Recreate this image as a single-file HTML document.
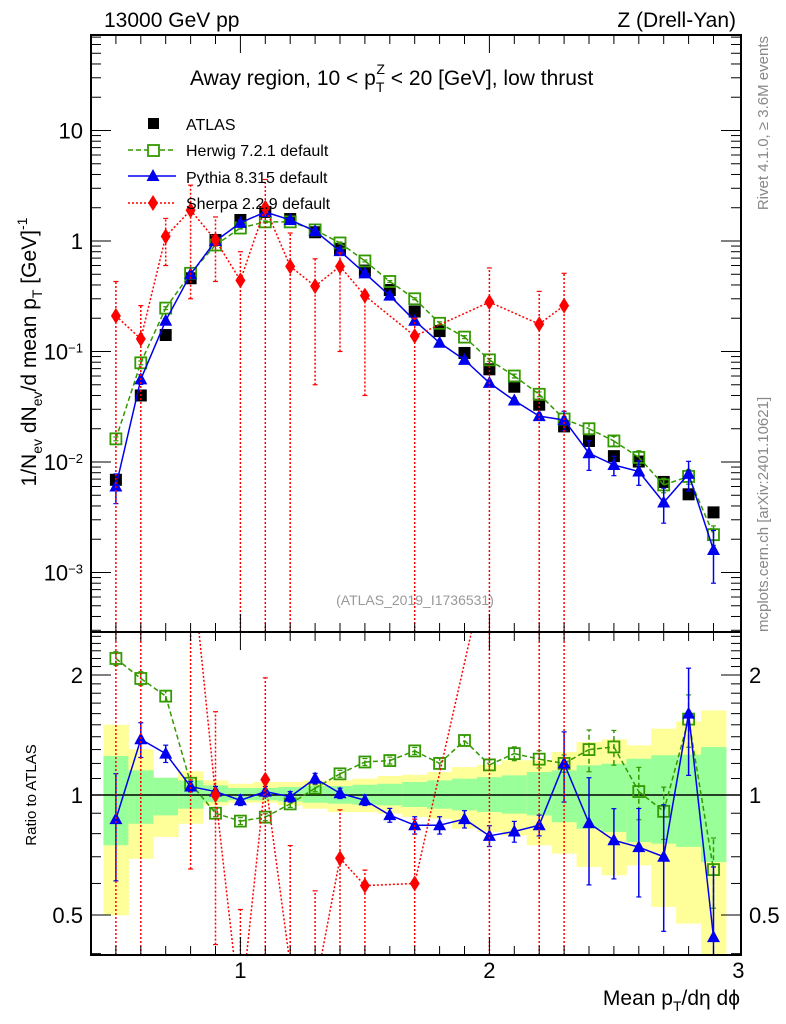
<!DOCTYPE html>
<html><head><meta charset="utf-8"><style>
html,body{margin:0;padding:0;background:#fff;overflow:hidden;width:786px;height:1024px;}
svg{display:block;font-family:"Liberation Sans",sans-serif;}
</style></head><body>
<svg id="c" width="786" height="1024" xmlns="http://www.w3.org/2000/svg"></svg>
<script>
const xs=[0.5,0.6,0.7,0.8,0.9,1.0,1.1,1.2,1.3,1.4,1.5,1.6,1.7,1.8,1.9,2.0,2.1,2.2,2.3,2.4,2.5,2.6,2.7,2.8,2.9];
const atlas=[0.0069,0.040,0.141,0.46,1.02,1.55,1.83,1.58,1.2,0.85,0.54,0.36,0.23,0.153,0.097,0.069,0.048,0.033,0.021,0.0155,0.0113,0.0101,0.0066,0.0051,0.0035];
const herwig=[0.0162,0.079,0.247,0.51,0.92,1.31,1.49,1.49,1.26,0.96,0.66,0.43,0.30,0.18,0.135,0.084,0.060,0.041,0.0245,0.020,0.0155,0.011,0.0062,0.0074,0.0022];
const pythia=[0.006,0.056,0.19,0.5,1.0,1.46,1.83,1.55,1.23,0.81,0.51,0.32,0.19,0.12,0.084,0.052,0.036,0.026,0.024,0.012,0.0094,0.0082,0.0043,0.0078,0.0016];
const pythiaRelErr=[0.3,0.1,0.05,0.03,0.03,0.03,0.03,0.03,0.03,0.03,0.03,0.04,0.05,0.05,0.05,0.06,0.06,0.06,0.2,0.3,0.2,0.25,0.35,0.3,0.5];
const herwigRelErr=[0.04,0.04,0.03,0.02,0.02,0.02,0.02,0.02,0.02,0.02,0.02,0.02,0.02,0.03,0.03,0.03,0.04,0.05,0.05,0.12,0.1,0.15,0.15,0.15,0.2];
const sherpaX=[0.5,0.6,0.7,0.8,0.9,1.0,1.1,1.2,1.3,1.4,1.5,1.7,2.0,2.2,2.3];
const sherpa=[0.21,0.13,1.1,1.9,1.02,0.44,2.0,0.59,0.39,0.59,0.32,0.138,0.28,0.177,0.26];
const sherpaLo=[1e-5,1e-5,0.6,0.3,0.43,1e-5,1e-5,1e-5,0.05,0.1,0.04,1e-5,1e-5,1e-5,1e-5];
const sherpaHi=[0.43,0.26,1.6,3.2,1.65,0.8,3.6,1.18,0.69,0.78,0.35,0.2,0.57,0.35,0.51];
const herwigRatio=[2.2,1.96,1.77,1.07,0.90,0.86,0.88,0.95,1.04,1.13,1.21,1.22,1.29,1.20,1.37,1.19,1.27,1.23,1.2,1.3,1.32,1.02,0.91,1.55,0.65];
const pythiaRatio=[0.87,1.38,1.27,1.05,1.02,0.97,1.02,0.99,1.1,1.01,0.97,0.89,0.84,0.84,0.87,0.79,0.81,0.84,1.2,0.85,0.77,0.74,0.70,1.6,0.44];
const yellowHi=[1.50,1.302,1.105,1.147,1.088,1.067,1.078,1.078,1.088,1.088,1.099,1.116,1.124,1.142,1.175,1.191,1.222,1.222,1.282,1.358,1.379,1.332,1.467,1.530,1.630];
const yellowLo=[0.499,0.692,0.785,0.847,0.942,0.956,0.956,0.942,0.924,0.906,0.906,0.898,0.881,0.872,0.823,0.808,0.792,0.748,0.713,0.660,0.629,0.666,0.524,0.476,0.38];
const greenHi=[1.253,1.153,1.105,1.088,1.057,1.041,1.041,1.047,1.053,1.053,1.061,1.067,1.078,1.088,1.099,1.109,1.120,1.142,1.153,1.187,1.198,1.233,1.258,1.262,1.319];
const greenLo=[0.748,0.847,0.889,0.924,0.960,0.970,0.970,0.964,0.956,0.951,0.946,0.942,0.933,0.924,0.915,0.906,0.898,0.889,0.855,0.823,0.808,0.762,0.755,0.741,0.679];
const mainTicks=[10,1,0.1,0.01,0.001];
const mainTickLabels=["10","1","10<tspan dy='-7' font-size='13'>−1</tspan>","10<tspan dy='-7' font-size='13'>−2</tspan>","10<tspan dy='-7' font-size='13'>−3</tspan>"];
const ratioTicks=[2,1,0.5];
const ratioTickLabels=["2","1","0.5"];
const xTicks=[1,2,3];

const L=91,R=741,T=35,MB=632,RB=955;
const X=v=>L+(v-0.4)*249;
const Y=v=>241-110.5*Math.log10(v);
const YR=v=>795-398.7*Math.log10(v);
const svg=document.getElementById('c');
const NS='http://www.w3.org/2000/svg';
function add(tag,attrs,parent){const e=document.createElementNS(NS,tag);for(const k in attrs)e.setAttribute(k,attrs[k]);(parent||svg).appendChild(e);return e;}
svg.innerHTML=`<defs><clipPath id="cm"><rect x="${L}" y="${T}" width="${R-L}" height="${MB-T}"/></clipPath><clipPath id="cr"><rect x="${L}" y="${MB}" width="${R-L}" height="${RB-MB}"/></clipPath></defs>`;

const gBand=add('g',{'clip-path':'url(#cr)'});


const cl=(v,a,b)=>Math.max(a,Math.min(b,v));
xs.forEach((x,i)=>{
 const yh=cl(YR(yellowHi[i]),MB,RB), yl=cl(YR(yellowLo[i]),MB,RB);
 const r1=add('rect',{x:X(x-0.05),y:yh,width:X(x+0.05)-X(x-0.05)+0.5,height:yl-yh,fill:'#ffff99'},gBand);
 
 
 const gh=cl(YR(greenHi[i]),MB,RB), gl=cl(YR(greenLo[i]),MB,RB);
 const r2=add('rect',{x:X(x-0.05),y:gh,width:X(x+0.05)-X(x-0.05)+0.5,height:gl-gh,fill:'#99ff99'},gBand);
 
 
});
add('line',{x1:L,x2:R,y1:YR(1),y2:YR(1),stroke:'#000','stroke-width':1.5});

function marker(g,type,x,y,color){
 let e;
 if(type==='sq') e=add('rect',{x:x-6,y:y-6,width:12,height:12,fill:'#000'},g);
 else if(type==='osq') e=add('rect',{x:x-5.5,y:y-5.5,width:11,height:11,fill:'#fff','fill-opacity':0,stroke:color,'stroke-width':1.8},g);
 else if(type==='tri') e=add('path',{d:`M${x},${y-7}L${x+6.5},${y+5}L${x-6.5},${y+5}Z`,fill:color},g);
 else e=add('path',{d:`M${x},${y-8}L${x+5},${y}L${x},${y+8}L${x-5},${y}Z`,fill:color},g);
 
 
}
// clip a segment to ymin..ymax; returns null if outside
function clipSeg(x1,y1,x2,y2,ymin,ymax){
 let t0=0,t1=1;const dy=y2-y1;
 const p=[-dy,dy],q=[y1-ymin,ymax-y1];
 for(let k=0;k<2;k++){
  if(p[k]===0){if(q[k]<0)return null;}
  else{const r=q[k]/p[k];if(p[k]<0){if(r>t1)return null;if(r>t0)t0=r;}else{if(r<t0)return null;if(r<t1)t1=r;}}
 }
 return [x1+(x2-x1)*t0,y1+dy*t0,x1+(x2-x1)*t1,y1+dy*t1];
}
function series(clip,yf,xv,vals,lo,hi,color,dash,type,name,ymin,ymax){
 const g=add('g',{'clip-path':clip});
 
 
 xv.forEach((x,i)=>{ if(lo){
  const a0=yf(Math.max(lo[i],1e-6)),b0=yf(hi[i]);
  const a=cl(a0,ymin,ymax),b=cl(b0,ymin,ymax);
  if(a===b) return;
  add('line',{x1:X(x),x2:X(x),y1:a,y2:b,stroke:color,'stroke-width':1.5,'stroke-dasharray':dash},g);
  if(b0>=ymin&&b0<=ymax) add('line',{x1:X(x)-2.5,x2:X(x)+2.5,y1:b,y2:b,stroke:color,'stroke-width':1.2},g);
  if(a0>=ymin&&a0<=ymax) add('line',{x1:X(x)-2.5,x2:X(x)+2.5,y1:a,y2:a,stroke:color,'stroke-width':1.2},g);}});
 if(color!=='#000'){
  let d='';
  for(let i=1;i<xv.length;i++){
   const s=clipSeg(X(xv[i-1]),yf(vals[i-1]),X(xv[i]),yf(vals[i]),ymin,ymax);
   if(s) d+=`M${s[0]},${s[1]}L${s[2]},${s[3]}`;
  }
  if(d) add('path',{d:d,fill:'none',stroke:color,'stroke-width':1.5,'stroke-dasharray':dash},g);}
 xv.forEach((x,i)=>{const y=yf(vals[i]);if(y>=ymin&&y<=ymax)marker(g,type,X(x),y,color);});
}
const pLo=pythia.map((v,i)=>v*(1-pythiaRelErr[i])), pHi=pythia.map((v,i)=>v*(1+pythiaRelErr[i]));
const hLo=herwig.map((v,i)=>v*(1-herwigRelErr[i])), hHi=herwig.map((v,i)=>v*(1+herwigRelErr[i]));
series('url(#cm)',Y,xs,atlas,null,null,'#000','','sq','atlas-data',T,MB);
series('url(#cm)',Y,xs,herwig,hLo,hHi,'#339900','5,3','osq','herwig-series',T,MB);
series('url(#cm)',Y,xs,pythia,pLo,pHi,'#0000ee','','tri','pythia-series',T,MB);
series('url(#cm)',Y,sherpaX,sherpa,sherpaLo,sherpaHi,'#ff0000','2,2','dia','sherpa-series',T,MB);
const atlasAt=x=>atlas[xs.findIndex(v=>Math.abs(v-x)<1e-6)];
const sR=sherpaX.map((x,i)=>sherpa[i]/atlasAt(x));
const sRLo=sherpaX.map((x,i)=>sherpaLo[i]/atlasAt(x));
const sRHi=sherpaX.map((x,i)=>sherpaHi[i]/atlasAt(x));
series('url(#cr)',YR,xs,herwigRatio,herwigRatio.map((v,i)=>v*(1-herwigRelErr[i])),herwigRatio.map((v,i)=>v*(1+herwigRelErr[i])),'#339900','5,3','osq','herwig-ratio',MB,RB);
series('url(#cr)',YR,xs,pythiaRatio,pythiaRatio.map((v,i)=>v*(1-pythiaRelErr[i])),pythiaRatio.map((v,i)=>v*(1+pythiaRelErr[i])),'#0000ee','','tri','pythia-ratio',MB,RB);
series('url(#cr)',YR,sherpaX,sR,sRLo,sRHi,'#ff0000','2,2','dia','sherpa-ratio',MB,RB);

let t='';
t+=`<rect x="${L}" y="${T}" width="${R-L}" height="${MB-T}" fill="none" stroke="#000" stroke-width="2"/>`;
t+=`<rect x="${L}" y="${MB}" width="${R-L}" height="${RB-MB}" fill="none" stroke="#000" stroke-width="2"/>`;
for(let d=-4;d<=1;d++)for(let m=1;m<=9;m++){const v=m*Math.pow(10,d);const y=Y(v);if(y<T||y>MB)continue;const len=m===1?20:10;
 t+=`<line x1="${L}" x2="${L+len}" y1="${y}" y2="${y}" stroke="#000"/><line x1="${R-len}" x2="${R}" y1="${y}" y2="${y}" stroke="#000"/>`;}
for(let v=0.4;v<=2.6;v=Math.round((v+0.1)*10)/10){const y=YR(v);if(y<MB||y>RB)continue;const len=(v===0.5||v===1||v===2)?20:10;
 t+=`<line x1="${L}" x2="${L+len}" y1="${y}" y2="${y}" stroke="#000"/><line x1="${R-len}" x2="${R}" y1="${y}" y2="${y}" stroke="#000"/>`;}
for(let v=0.5;v<3.0;v=Math.round((v+0.1)*10)/10){const x=X(v);const len=(Math.abs(v-Math.round(v))<1e-6)?18:9;
 t+=`<line x1="${x}" x2="${x}" y1="${T}" y2="${T+len}" stroke="#000"/><line x1="${x}" x2="${x}" y1="${MB-len}" y2="${MB}" stroke="#000"/>`;
 t+=`<line x1="${x}" x2="${x}" y1="${MB}" y2="${MB+len}" stroke="#000"/><line x1="${x}" x2="${x}" y1="${RB-len}" y2="${RB}" stroke="#000"/>`;}
mainTicks.forEach((v,i)=>{t+=`<text x="${L-8}" y="${Y(v)+8}" font-size="22" text-anchor="end">${mainTickLabels[i]}</text>`;});
ratioTicks.forEach((v,i)=>{t+=`<text x="${L-8}" y="${YR(v)+8}" font-size="22" text-anchor="end">${ratioTickLabels[i]}</text>`;
 t+=`<text x="${R+8}" y="${YR(v)+8}" font-size="22">${ratioTickLabels[i]}</text>`;});
xTicks.forEach(v=>{t+=`<text x="${X(v)}" y="978" font-size="22" text-anchor="middle">${v}</text>`;});
t+=`
<text x="104" y="27" font-size="21">13000 GeV pp</text>
<text x="736" y="27" font-size="21" text-anchor="end">Z (Drell-Yan)</text>
<text x="190" y="85" font-size="21">Away region, 10 &lt; p<tspan dy="7" font-size="14">T</tspan><tspan dx="-8" dy="-18" font-size="14">Z</tspan><tspan dy="11"> &lt; 20 [GeV], low thrust</tspan></text>
<g font-size="16">
 <rect x="148" y="118" width="11" height="11" fill="#000"/>
 <text x="186" y="130">ATLAS</text>
 <line x1="128" x2="176" y1="150" y2="150" stroke="#339900" stroke-width="1.5" stroke-dasharray="5,3"/>
 <rect x="148" y="145" width="11" height="11" fill="#fff" stroke="#339900" stroke-width="1.8"/>
 <text x="186" y="156">Herwig 7.2.1 default</text>
 <line x1="128" x2="176" y1="176" y2="176" stroke="#0000ee" stroke-width="1.5"/>
 <path d="M153,169L159.5,181L146.5,181Z" fill="#0000ee"/>
 <text x="186" y="183">Pythia 8.315 default</text>
 <line x1="128" x2="176" y1="203" y2="203" stroke="#ff0000" stroke-width="1.5" stroke-dasharray="2,2"/>
 <path d="M153,195L158,203L153,211L148,203Z" fill="#ff0000"/>
 <text x="186" y="209">Sherpa 2.2.9 default</text>
</g>
<text x="415" y="605" font-size="14" fill="#999" text-anchor="middle">(ATLAS_2019_I1736531)</text>
<text transform="translate(768,36) rotate(-90)" font-size="15" fill="#888" text-anchor="end">Rivet 4.1.0, ≥ 3.6M events</text>
<text transform="translate(768,632) rotate(-90)" font-size="15" fill="#888">mcplots.cern.ch [arXiv:2401.10621]</text>
<text transform="translate(36,352) rotate(-90)" font-size="21" text-anchor="middle">1/N<tspan dy="6" font-size="14">ev</tspan><tspan dy="-6"> dN</tspan><tspan dy="6" font-size="14">ev</tspan><tspan dy="-6">/d mean p</tspan><tspan dy="6" font-size="14">T</tspan><tspan dy="-6"> [GeV]</tspan><tspan dy="-9" font-size="14">-1</tspan></text>
<text transform="translate(36,795) rotate(-90)" font-size="15" text-anchor="middle">Ratio to ATLAS</text>
<text x="740" y="1005" font-size="21" text-anchor="end">Mean p<tspan dy="6" font-size="14">T</tspan><tspan dy="-6">/dη dϕ</tspan></text>`;
svg.insertAdjacentHTML('beforeend',t);
</script>
</body></html>
